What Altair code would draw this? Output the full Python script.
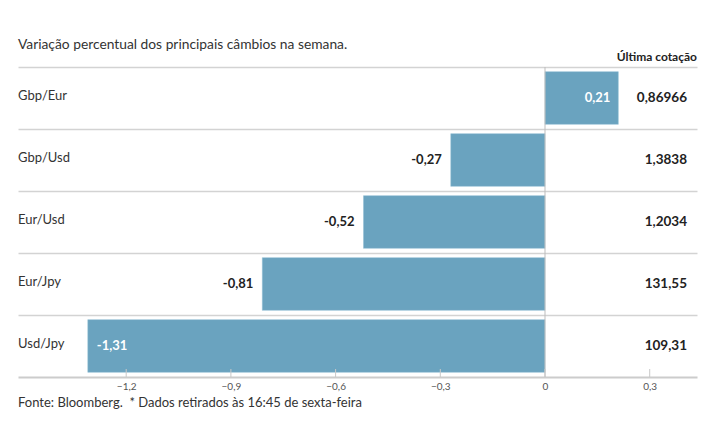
import altair as alt
import pandas as pd

pairs = ["Gbp/Eur", "Gbp/Usd", "Eur/Usd", "Eur/Jpy", "Usd/Jpy"]
changes = [0.21, -0.27, -0.52, -0.81, -1.31]
quotes = ["0,86966", "1,3838", "1,2034", "131,55", "109,31"]
label_pos = ["inside_right", "outside", "outside", "outside", "inside_left"]
tick_values = [-1.2, -0.9, -0.6, -0.3, 0, 0.3]

title_text = "Variação percentual dos principais câmbios na semana."
col_header = "Última cotação"
footer_text = "Fonte: Bloomberg.\u00a0 * Dados retirados às 16:45 de sexta-feira"

df = pd.DataFrame({
    "pair": pairs,
    "change": changes,
    "quote": quotes,
    "pos": label_pos,
    "label": [f"{v:.2f}".replace(".", ",") for v in changes],
})
ticks_df = pd.DataFrame({"t": tick_values})

W, H = 679, 310
FONT = "Lato"
BAR = "#6aa3bf"

xscale = alt.Scale(domain=[-1.510, 0.4355], nice=False, zero=False)
yscale = alt.Scale(domain=pairs, paddingInner=0, paddingOuter=0)

base = alt.Chart(df)

bars = base.mark_bar(color=BAR, height=alt.RelativeBandSize(0.85),
                     stroke="#8fbcd2", strokeWidth=0.5).encode(
    x=alt.X("change:Q", scale=xscale,
            axis=alt.Axis(values=tick_values, grid=False, title=None,
                          labelExpr="datum.value == 0 ? '0' : replace(format(datum.value, '.1f'), '.', ',')",
                          labelFont=FONT, labelFontSize=10, labelColor="#555",
                          labelPadding=4, tickSize=0, domainColor="#cccccc",
                          domainWidth=2)),
    x2=alt.datum(0),
    y=alt.Y("pair:N", scale=yscale, sort=pairs,
            axis=alt.Axis(labels=False, ticks=False, domain=False, grid=True,
                          gridColor="#d3d3d3", gridWidth=1.5, bandPosition=0,
                          title=None)),
)

zero_line = alt.Chart(pd.DataFrame({"z": [0]})).mark_rule(
    color="#bdbdbd", strokeWidth=1).encode(
    x=alt.X("z:Q", scale=xscale), y=alt.value(0), y2=alt.value(H))

tick_marks = alt.Chart(ticks_df).mark_rule(color="#c8c8c8", strokeWidth=1).encode(
    x=alt.X("t:Q", scale=xscale), y=alt.value(H - 8), y2=alt.value(H))

cat_labels = base.mark_text(align="left", baseline="middle", font=FONT,
                            fontSize=13, color="#333", dy=-2).encode(
    x=alt.value(0), y=alt.Y("pair:N", scale=yscale, sort=pairs), text="pair:N")

lbl_out = base.transform_filter("datum.pos == 'outside'").mark_text(
    align="right", baseline="middle", font=FONT, fontSize=13, fontWeight="bold",
    color="#222", dx=-9).encode(
    x=alt.X("change:Q", scale=xscale), y=alt.Y("pair:N", scale=yscale, sort=pairs),
    text="label:N")

lbl_in_r = base.transform_filter("datum.pos == 'inside_right'").mark_text(
    align="right", baseline="middle", font=FONT, fontSize=13, fontWeight="bold",
    color="white", dx=-8).encode(
    x=alt.X("change:Q", scale=xscale), y=alt.Y("pair:N", scale=yscale, sort=pairs),
    text="label:N")

lbl_in_l = base.transform_filter("datum.pos == 'inside_left'").mark_text(
    align="left", baseline="middle", font=FONT, fontSize=13, fontWeight="bold",
    color="white", dx=9).encode(
    x=alt.X("change:Q", scale=xscale), y=alt.Y("pair:N", scale=yscale, sort=pairs),
    text="label:N")

quote_labels = base.mark_text(align="right", baseline="middle", font=FONT,
                              fontSize=13.5, fontWeight="bold", color="#222").encode(
    x=alt.value(669), y=alt.Y("pair:N", scale=yscale, sort=pairs), text="quote:N")

title = alt.Chart(pd.DataFrame({"t": [title_text]})).mark_text(
    align="left", baseline="middle", font=FONT, fontSize=13.8, color="#333").encode(
    x=alt.value(0), y=alt.value(-22), text="t:N")

header = alt.Chart(pd.DataFrame({"t": [col_header]})).mark_text(
    align="right", baseline="middle", font=FONT, fontSize=12, fontWeight="bold",
    color="#222").encode(x=alt.value(W), y=alt.value(-10), text="t:N")

footer = alt.Chart(pd.DataFrame({"t": [footer_text]})).mark_text(
    align="left", baseline="middle", font=FONT, fontSize=13, color="#333").encode(
    x=alt.value(0), y=alt.value(336), text="t:N")

chart = alt.layer(
    bars, zero_line, tick_marks, cat_labels, lbl_out, lbl_in_r, lbl_in_l,
    quote_labels, title, header, footer
).properties(
    width=W, height=H,
    autosize=alt.AutoSizeParams(type="none"),
    padding={"left": 10, "top": 59, "right": 10, "bottom": 50},
).configure(background="white").configure_view(stroke=None)

chart.save("out.html", embed_options={"renderer": "svg", "actions": False})
